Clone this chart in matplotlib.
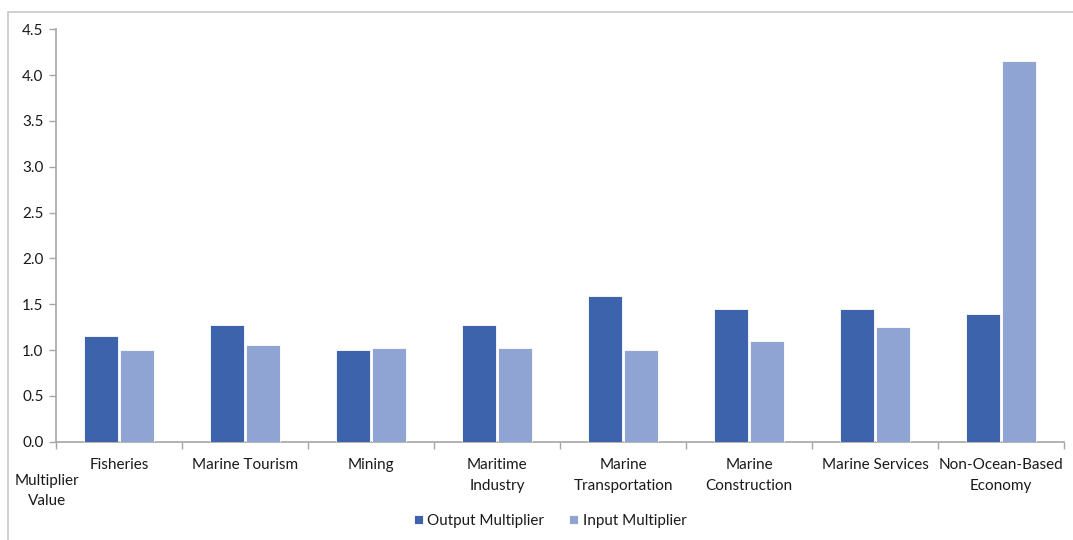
import matplotlib
matplotlib.use("Agg")
import matplotlib.pyplot as plt
from matplotlib.patches import Rectangle
import numpy as np

categories = ["Fisheries", "Marine Tourism", "Mining", "Maritime\nIndustry",
              "Marine\nTransportation", "Marine\nConstruction", "Marine Services",
              "Non-Ocean-Based\nEconomy"]
output_multiplier = [1.15, 1.27, 1.00, 1.27, 1.59, 1.45, 1.45, 1.39]
input_multiplier = [1.00, 1.05, 1.02, 1.02, 1.00, 1.10, 1.25, 4.15]
y_ticks = [0.0, 0.5, 1.0, 1.5, 2.0, 2.5, 3.0, 3.5, 4.0, 4.5]

plt.rcParams["font.family"] = ["Lato", "DejaVu Sans"]
text_color = "#1A1A1A"
axis_color = "#A6A6A6"
fs = 11

W, H = 1073, 540
fig = plt.figure(figsize=(W / 100, H / 100), dpi=100)

# chart frame, open towards the right and bottom edges
frame_top = 1 - 11.5 / H
fig.patches.append(Rectangle((7.5 / W, -0.05), 1.2, frame_top + 0.05,
                             transform=fig.transFigure, fill=False,
                             edgecolor="#C8C8C8", linewidth=1.2))

left, right = 56 / W, 1064 / W
bottom = (H - 441.7) / H
top = (H - 29.2) / H
ax = fig.add_axes([left, bottom, right - left, top - bottom])

x = np.arange(len(categories))
bw = 0.275
ax.bar(x - 0.142, output_multiplier, bw, color="#3C63AB", edgecolor="white",
       linewidth=0.6, label="Output Multiplier", zorder=3)
ax.bar(x + 0.142, input_multiplier, bw, color="#90A4D4", edgecolor="white",
       linewidth=0.6, label="Input Multiplier", zorder=3)

ax.set_xlim(-0.5, len(categories) - 0.5)
ax.set_ylim(0, 4.5)
ax.set_yticks(y_ticks)
ax.set_yticklabels([f"{v:.1f}" for v in y_ticks], fontsize=fs, color=text_color)

# category labels sit between boundary ticks
ax.set_xticks(x)
ax.set_xticklabels(categories, fontsize=fs, color=text_color, linespacing=1.6,
                   va="top")
ax.tick_params(axis="x", length=0, pad=12)
ax.set_xticks(np.arange(len(categories) + 1) - 0.5, minor=True)
ax.tick_params(axis="x", which="minor", length=5, color=axis_color, width=1)
ax.tick_params(axis="y", length=5, color=axis_color, width=1, pad=4)

for side in ("top", "right"):
    ax.spines[side].set_visible(False)
for side in ("left", "bottom"):
    ax.spines[side].set_color(axis_color)
    ax.spines[side].set_linewidth(1.2)

fig.text(47 / W, 1 - 491 / H, "Multiplier\nValue", ha="center", va="center",
         fontsize=fs, color=text_color, linespacing=1.6)

fig.legend(loc="center", bbox_to_anchor=(550 / W, 1 - 521 / H), ncol=2,
           frameon=False, fontsize=fs, handlelength=0.6, handleheight=0.6,
           handletextpad=0.3, columnspacing=1.6, labelcolor=text_color)

fig.savefig("out.png", dpi=100)
